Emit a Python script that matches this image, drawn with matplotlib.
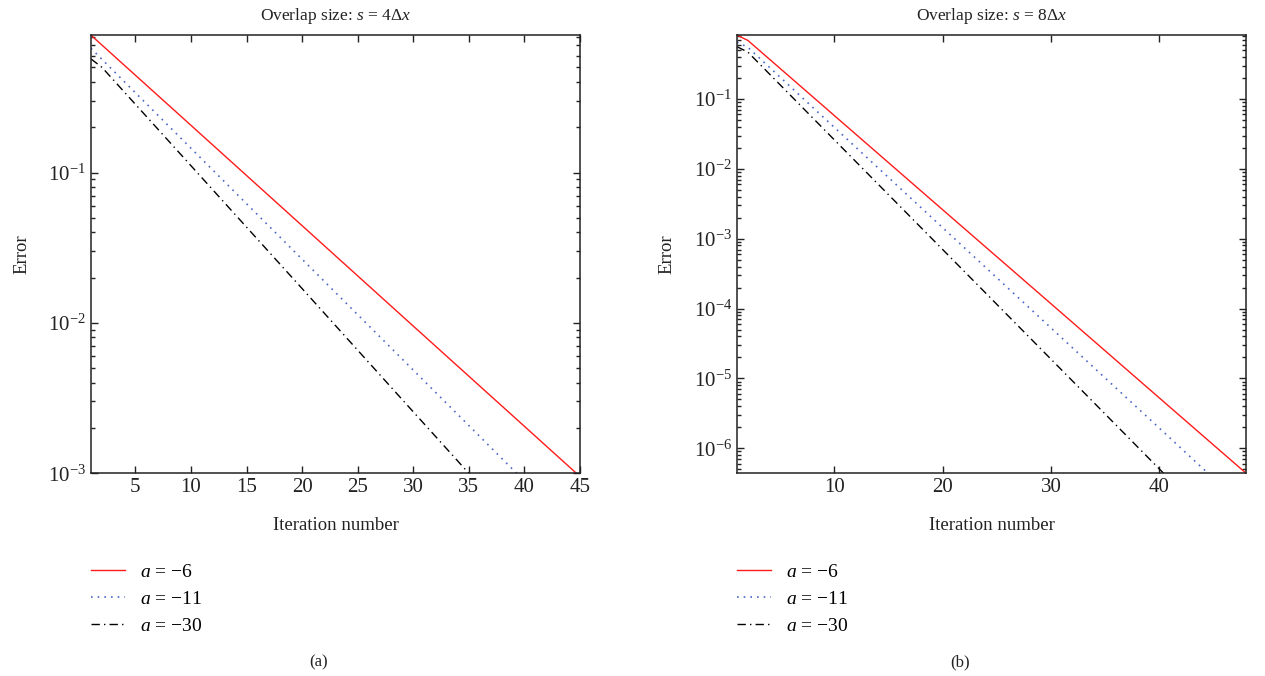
import matplotlib
matplotlib.use('Agg')
import matplotlib.pyplot as plt
from matplotlib.ticker import MultipleLocator, LogLocator, NullFormatter

plt.rcParams['font.family'] = ['Liberation Serif', 'DejaVu Serif']
plt.rcParams['mathtext.fontset'] = 'custom'
plt.rcParams['mathtext.rm'] = 'Liberation Serif'
plt.rcParams['mathtext.it'] = 'Liberation Serif:italic'

# values (error per iteration, log scale)
labels = ['$a$ = \u22126', '$a$ = \u221211', '$a$ = \u221230']

# panel (a): overlap s = 4 dx
iters_a_red = [1, 10, 20, 30, 40, 45]
err_a_red = [0.82, 0.206, 0.0443, 0.00952, 0.00205, 0.00095]
iters_a_blue = [1, 10, 20, 30, 40]
err_a_blue = [0.67, 0.145, 0.0265, 0.00485, 0.000887]
iters_a_black = [1, 2, 10, 20, 30, 36]
err_a_black = [0.57, 0.50, 0.111, 0.0169, 0.00256, 0.000827]

# panel (b): overlap s = 8 dx
iters_b_red = [1, 2, 10, 20, 30, 40, 48]
err_b_red = [0.82, 0.69, 0.0577, 0.00259, 1.17e-4, 5.25e-6, 4.4e-7]
iters_b_blue = [1, 2, 10, 20, 30, 40, 45]
err_b_blue = [0.65, 0.55, 0.0391, 1.435e-3, 5.27e-5, 1.94e-6, 3.71e-7]
iters_b_black = [1, 2, 10, 20, 30, 41]
err_b_black = [0.56, 0.47, 0.0259, 6.98e-4, 1.88e-5, 3.52e-7]

styles = [dict(color='#ff1a1a', linestyle='-', linewidth=1.0),
          dict(color='#4a66c8', linestyle=(0, (1, 3)), linewidth=1.2),
          dict(color='black', linestyle=(0, (6, 3, 1, 3)), linewidth=1.0)]

fig = plt.figure(figsize=(12.65, 6.76), dpi=100)
ax_a = fig.add_axes([0.0719, 0.300, 0.3866, 0.648])
ax_b = fig.add_axes([0.5826, 0.300, 0.4024, 0.648])

panels = [
    (ax_a, [(iters_a_red, err_a_red), (iters_a_blue, err_a_blue), (iters_a_black, err_a_black)],
     'Overlap size: $s$ = 4$\\Delta$$x$', (1, 45), (1e-3, 0.82), 5, '(a)', 0.252),
    (ax_b, [(iters_b_red, err_b_red), (iters_b_blue, err_b_blue), (iters_b_black, err_b_black)],
     'Overlap size: $s$ = 8$\\Delta$$x$', (1, 48), (4.4e-7, 0.82), 10, '(b)', 0.759),
]

for ax, series, title, xl, yl, xstep, tag, tagx in panels:
    for (xs, ys), st, lab in zip(series, styles, labels):
        ax.semilogy(xs, ys, label=lab, **st)
    ax.set_xlim(*xl)
    ax.set_ylim(*yl)
    ax.xaxis.set_major_locator(MultipleLocator(xstep))
    ax.yaxis.set_major_locator(LogLocator(base=10, numticks=20))
    ax.yaxis.set_minor_locator(LogLocator(base=10, subs=range(2, 10), numticks=20))
    ax.yaxis.set_minor_formatter(NullFormatter())
    ax.tick_params(which='both', direction='in', top=True, right=True, labelsize=15,
                   colors='#222222', width=1.0)
    ax.tick_params(which='major', length=5)
    ax.tick_params(which='minor', length=3)
    for sp in ax.spines.values():
        sp.set_linewidth(1.1)
        sp.set_color('#222222')
    ax.set_title(title, fontsize=12.5, pad=11, color='#222222')
    ax.set_xlabel('Iteration number', fontsize=13.5, labelpad=14, color='#222222')
    ax.set_ylabel('Error', fontsize=13.5, labelpad=13, color='#222222')
    ax.legend(loc='upper left', bbox_to_anchor=(0.0, -0.205), frameon=False,
              fontsize=14, handlelength=1.75, handletextpad=0.75, labelspacing=0.5,
              borderaxespad=0.0, borderpad=0.0)
    fig.text(tagx, 0.008, tag, fontsize=12, ha='center', va='bottom', color='#222222')

fig.savefig('out.png', dpi=100)
